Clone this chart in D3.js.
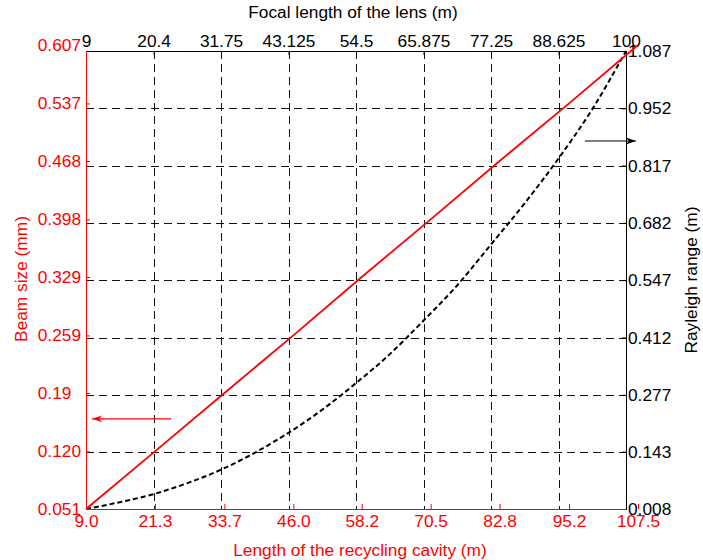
<!DOCTYPE html>
<html>
<head>
<meta charset="utf-8">
<script src="https://cdn.jsdelivr.net/npm/d3@7"></script>
<style>
  html, body { margin: 0; padding: 0; background: #fff; }
  svg { display: block; }
  text { font-family: "Liberation Sans", Arial, sans-serif; }
</style>
</head>
<body>
<svg id="chart" width="703" height="560"></svg>
<script>
// ---------------- data ----------------
const cavityLength = [9, 15.15, 21.3, 27.5, 33.7, 39.85, 46, 52.1, 58.2, 64.35, 70.5, 76.65, 82.8, 89, 95.2, 101.35, 107.5];
const beamSizeL    = [9, 21.3, 33.7, 46, 58.2, 70.5, 82.8, 95.2, 107.5];
const beamSize     = [0.051, 0.120, 0.19, 0.259, 0.329, 0.398, 0.468, 0.537, 0.607];
const rayleighRange = [0.008, 0.024, 0.043, 0.069, 0.101, 0.141, 0.188, 0.242, 0.304, 0.372, 0.451, 0.534, 0.630, 0.728, 0.834, 0.950, 1.087];

const bottomTicks = ["9.0", "21.3", "33.7", "46.0", "58.2", "70.5", "82.8", "95.2", "107.5"];
const topTicks    = ["9", "20.4", "31.75", "43.125", "54.5", "65.875", "77.25", "88.625", "100"];
const leftTicks   = ["0.051", "0.120", "0.19", "0.259", "0.329", "0.398", "0.468", "0.537", "0.607"];
const rightTicks  = ["0.008", "0.143", "0.277", "0.412", "0.547", "0.682", "0.817", "0.952", "1.087"];

// annotation arrows (data units): [x1, x2, y] arrow points toward x2
const redArrow   = [24.2, 10.1, 0.159];
const blackArrow = [100.0, 109.3, 0.875];

// ---------------- layout ----------------
const svg = d3.select("#chart");
const FS = 17.3;
const RED = "#ff0000";

const xB = d3.scaleLinear().domain([9, 107.5]).range([86, 638]);   // red bottom axis
const yL = d3.scaleLinear().domain([0.051, 0.607]).range([509, 45]); // red left axis
const xT = d3.scaleLinear().domain([9, 100]).range([86, 626]);      // top axis
const xG = d3.scaleLinear().domain([9, 107.5]).range([86, 626]);    // second axes x
const yR = d3.scaleLinear().domain([0.008, 1.087]).range([509, 51]); // right axis

const pL = 86, pR = 626, pT = 51, pB = 509;

// grid
const grid = svg.append("g").attr("stroke", "#111").attr("stroke-width", 1)
  .attr("stroke-dasharray", "8,5").attr("fill", "none");
grid.selectAll("line.v").data(topTicks.map(Number)).enter().append("line")
  .attr("x1", d => Math.round(xT(d)) + 0.5).attr("x2", d => Math.round(xT(d)) + 0.5)
  .attr("y1", pT).attr("y2", pB);
grid.selectAll("line.h").data(rightTicks.map(Number)).enter().append("line")
  .attr("y1", d => Math.round(yR(d)) + 0.5).attr("y2", d => Math.round(yR(d)) + 0.5)
  .attr("x1", pL).attr("x2", pR);

// box
svg.append("rect").attr("x", pL + 0.5).attr("y", pT + 0.5)
  .attr("width", pR - pL).attr("height", pB - pT)
  .attr("fill", "none").attr("stroke", "#000").attr("stroke-width", 1);

// axes (black: top & right)
const topAxis = svg.append("g").attr("transform", `translate(0,${pT})`)
  .call(d3.axisTop(xT).tickValues(topTicks.map(Number)).tickFormat((d, i) => topTicks[i])
    .tickSizeInner(-4).tickSizeOuter(0).tickPadding(4));
const rightAxis = svg.append("g").attr("transform", `translate(${pR},0)`)
  .call(d3.axisRight(yR).tickValues(rightTicks.map(Number)).tickFormat((d, i) => rightTicks[i])
    .tickSizeInner(-4).tickSizeOuter(0).tickPadding(2));
[topAxis, rightAxis].forEach(a => {
  a.select(".domain").remove();
  a.selectAll("line").attr("stroke", "#000");
  a.selectAll("text").attr("fill", "#000").style("font-size", FS + "px").style("font-family", "Liberation Sans, Arial, sans-serif");
});

// black dashed curve (Rayleigh range)
svg.append("path").datum(cavityLength.map((c, i) => [c, rayleighRange[i]]))
  .attr("fill", "none").attr("stroke", "#000").attr("stroke-width", 2)
  .attr("stroke-dasharray", "5,3")
  .attr("d", d3.line().curve(d3.curveMonotoneX).x(d => xG(d[0])).y(d => yR(d[1])));

// red solid line (beam size)
svg.append("path").datum(beamSizeL.map((c, i) => [c, beamSize[i]]))
  .attr("fill", "none").attr("stroke", RED).attr("stroke-width", 1.8)
  .attr("d", d3.line().x(d => xB(d[0])).y(d => yL(d[1])));

// red axes
const bottomAxis = svg.append("g").attr("transform", `translate(0,${pB})`)
  .call(d3.axisBottom(xB).tickValues(bottomTicks.map(Number)).tickFormat((d, i) => bottomTicks[i])
    .tickSizeInner(-5).tickSizeOuter(0).tickPadding(6));
const leftAxis = svg.append("g").attr("transform", `translate(${pL},0)`)
  .call(d3.axisLeft(yL).tickValues(leftTicks.map(Number)).tickFormat((d, i) => leftTicks[i])
    .tickSizeInner(-4).tickSizeOuter(0).tickPadding(5));
[bottomAxis, leftAxis].forEach(a => {
  a.select(".domain").remove();
  a.selectAll("line").attr("stroke", RED);
  a.selectAll("text").attr("fill", RED).style("font-size", FS + "px").style("font-family", "Liberation Sans, Arial, sans-serif");
});
leftAxis.selectAll("text").attr("dx", function() {
  const n = this.textContent.length;
  return n < 5 ? (-(5 - n) * 0.556) + "em" : "0em";
});
// red axis lines
svg.append("line").attr("x1", pL + 0.5).attr("x2", pL + 0.5).attr("y1", pT).attr("y2", pB + 0.5)
  .attr("stroke", RED).attr("stroke-width", 1);
svg.append("line").attr("x1", pL).attr("x2", pR).attr("y1", pB + 0.5).attr("y2", pB + 0.5)
  .attr("stroke", RED).attr("stroke-width", 1);

// arrows
const defs = svg.append("defs");
function marker(id, color) {
  defs.append("marker").attr("id", id).attr("viewBox", "0 -4 11 8")
    .attr("refX", 10).attr("refY", 0).attr("markerWidth", 11).attr("markerHeight", 8)
    .attr("markerUnits", "userSpaceOnUse").attr("orient", "auto")
    .append("path").attr("d", "M0,-3.5 L10,0 L0,3.5 L3,0 Z").attr("fill", color);
}
marker("arrRed", RED);
marker("arrBlack", "#000");
svg.append("line")
  .attr("x1", xB(redArrow[0])).attr("x2", xB(redArrow[1]))
  .attr("y1", yL(redArrow[2])).attr("y2", yL(redArrow[2]))
  .attr("stroke", RED).attr("stroke-width", 1.3).attr("marker-end", "url(#arrRed)");
svg.append("line")
  .attr("x1", xG(blackArrow[0])).attr("x2", xG(blackArrow[1]))
  .attr("y1", yR(blackArrow[2])).attr("y2", yR(blackArrow[2]))
  .attr("stroke", "#000").attr("stroke-width", 1).attr("marker-end", "url(#arrBlack)");

// titles
svg.append("text").attr("x", 353).attr("y", 18).attr("text-anchor", "middle")
  .attr("fill", "#000").style("font-size", FS + "px").text("Focal length of the lens (m)");
svg.append("text").attr("x", 360).attr("y", 556).attr("text-anchor", "middle")
  .attr("fill", RED).style("font-size", FS + "px").text("Length of the recycling cavity (m)");
svg.append("text").attr("transform", "translate(27,279) rotate(-90)").attr("text-anchor", "middle")
  .attr("fill", RED).style("font-size", FS + "px").text("Beam size (mm)");
svg.append("text").attr("transform", "translate(697,280) rotate(-90)").attr("text-anchor", "middle")
  .attr("fill", "#000").style("font-size", FS + "px").text("Rayleigh range (m)");
</script>
</body>
</html>
